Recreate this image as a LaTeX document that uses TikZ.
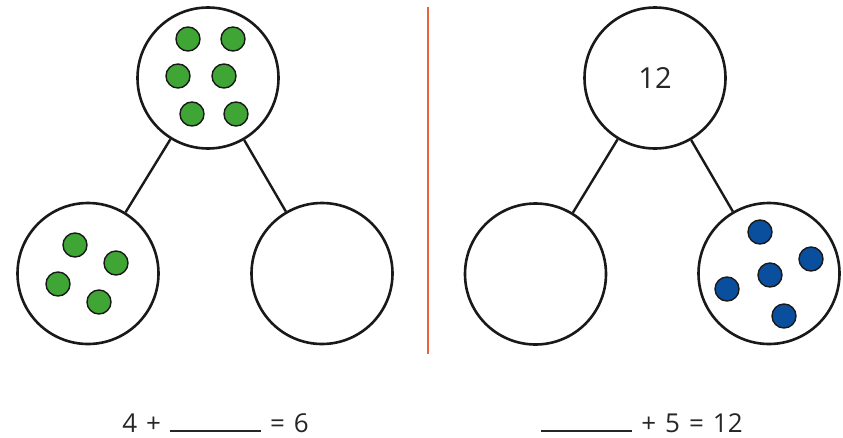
\documentclass[tikz,border=0pt]{standalone}
\usepackage{fontspec}
\setmainfont{Open Sans}
\definecolor{dotgreen}{HTML}{3FA535}
\definecolor{dotblue}{HTML}{0A4F9E}
\definecolor{divider}{HTML}{E8643C}
\newcommand{\blankline}{\rule{91pt}{1.6pt}}
\newcommand{\gap}{\hspace{9pt}}
\begin{document}
\begin{tikzpicture}[
    x=1pt, y=-1pt,
    part/.style={draw=black!90, circle, line width=2.6pt, minimum size=141pt, inner sep=0pt, fill=white},
    gdot/.style={draw=black!90, fill=dotgreen, circle, line width=1.4pt, minimum size=24pt, inner sep=0pt},
    bdot/.style={draw=black!90, fill=dotblue, circle, line width=1.4pt, minimum size=24pt, inner sep=0pt},
    link/.style={draw=black!90, line width=2.4pt},
    sum/.style={font=\fontsize{26}{30}\selectfont, text=black!85, anchor=base, inner sep=0pt}
]
\useasboundingbox (0,0) rectangle (843,437);

% Left part-whole diagram
\node[part] (lwhole) at (208,78) {};
\node[part] (lpartA) at (88,273.5) {};
\node[part] (lpartB) at (322,273.5) {};
\draw[link] (lwhole) -- (lpartA);
\draw[link] (lwhole) -- (lpartB);

% green counters (whole)
\foreach \px/\py [count=\i] in {188/39, 233/39, 178/76, 224/76, 192/114, 236/114}
    \node[gdot] (gw\i) at (\px,\py) {};
% green counters (part)
\foreach \px/\py [count=\i] in {75/245, 116/263, 58/284, 99/302}
    \node[gdot] (gp\i) at (\px,\py) {};

% Divider
\coordinate (divtop) at (427.7,7);
\coordinate (divbot) at (427.7,354);
\draw[divider, line width=2pt] (divtop) -- (divbot);

% Right part-whole diagram
\node[part, font=\fontsize{29}{34}\selectfont, text=black!85] (rwhole) at (655,78) {12};
\node[part] (rpartA) at (535.5,274) {};
\node[part] (rpartB) at (769,273.5) {};
\draw[link] (rwhole) -- (rpartA);
\draw[link] (rwhole) -- (rpartB);

% blue counters
\foreach \px/\py [count=\i] in {760/232, 811/259, 770/275, 727/289, 784/316}
    \node[bdot] (bp\i) at (\px,\py) {};

% Equations
\node[sum] (eqleft) at (215.5,432) {4\gap+\gap\blankline\gap=\gap6};
\node[sum] (eqright) at (642,432) {\blankline\gap+\gap5\gap=\gap12};

\end{tikzpicture}
\end{document}
